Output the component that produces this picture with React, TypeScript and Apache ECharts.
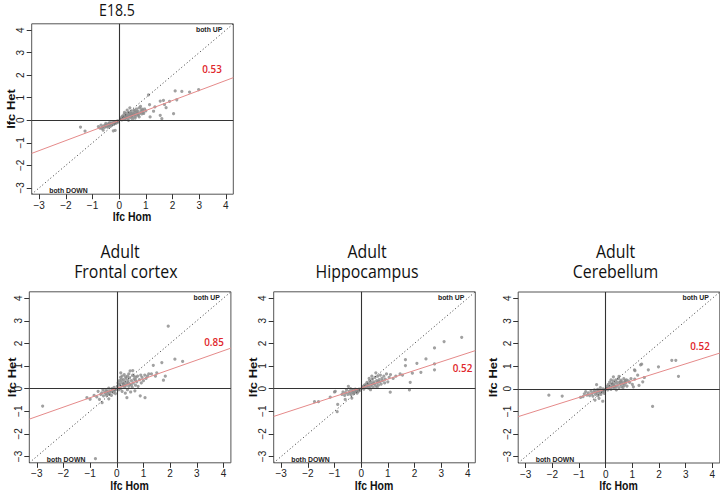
import React, { useEffect, useRef } from "react";
import * as echarts from "echarts";

// ---------- data ----------
const tickValues = [-3, -2, -1, 0, 1, 2, 3, 4];
const axisMin = -3.28;
const axisMax = 4.28;

const panelTitles = [["E18.5"], ["Adult", "Frontal cortex"], ["Adult", "Hippocampus"], ["Adult", "Cerebellum"]];
const fitLabels = ["0.53", "0.85", "0.52", "0.52"];
const xAxisName = "lfc Hom";
const yAxisName = "lfc Het";
const upLabel = "both UP";
const downLabel = "both DOWN";

const diagonal = [[-3.28, -3.28], [4.28, 4.28]];

const e18Fit = [[-3.28, -1.47], [4.28, 1.89]];
const frontalFit = [[-3.28, -1.35], [4.28, 1.79]];
const hippoFit = [[-3.28, -1.23], [4.28, 1.68]];
const cerebFit = [[-3.28, -1.23], [4.28, 1.58]];

const e18Points = [
  [-1.45, -0.3], [-1.28, -0.48], [-0.78, -0.28], [-0.72, -0.35], [-0.68, -0.22], [-0.62, -0.3], [-0.58, -0.25],
  [-0.55, -0.32], [-0.52, -0.2], [-0.48, -0.28], [-0.45, -0.22], [-0.42, -0.3], [-0.4, -0.15], [-0.38, -0.24],
  [-0.35, -0.18], [-0.33, -0.27], [-0.3, -0.12], [-0.28, -0.2], [-0.25, -0.15], [-0.23, -0.09], [-0.2, -0.18],
  [-0.18, -0.1], [-0.15, -0.06], [-0.13, -0.14], [-0.1, -0.05], [-0.08, -0.1], [-0.05, -0.03], [-0.03, -0.07],
  [-0.15, -0.45], [-0.6, -0.44], [-0.22, -0.47], [-0.65, -0.36], [-0.5, -0.14], [-0.36, -0.1],
  [0.05, 0.05], [0.08, 0.12], [0.1, 0.02], [0.12, 0.18], [0.15, 0.08], [0.18, 0.25], [0.2, 0.12], [0.22, 0.05],
  [0.25, 0.3], [0.28, 0.15], [0.3, 0.22], [0.32, 0.08], [0.35, 0.35], [0.38, 0.18], [0.4, 0.28], [0.42, 0.12],
  [0.45, 0.4], [0.48, 0.22], [0.5, 0.32], [0.52, 0.15], [0.55, 0.45], [0.58, 0.25], [0.6, 0.35], [0.62, 0.18],
  [0.65, 0.5], [0.68, 0.3], [0.7, 0.4], [0.72, 0.22], [0.75, 0.55], [0.78, 0.32], [0.8, 0.62], [0.82, 0.4],
  [0.85, 0.28], [0.88, 0.45], [0.9, 0.35], [0.95, 0.5], [1.0, 0.42], [0.3, 0.45], [0.4, 0.55], [0.2, 0.35],
  [0.6, 0.1], [0.5, 0.05], [0.35, 0.0], [0.75, 0.15], [0.16, 0.16], [0.26, 0.2], [0.44, 0.3], [0.66, 0.38],
  [0.54, 0.28], [0.46, 0.18], [0.36, 0.25], [0.7, 0.26], [0.58, 0.42], [0.84, 0.5], [0.92, 0.3], [0.24, 0.1],
  [1.1, 1.13], [1.14, 0.69], [1.29, 0.4], [1.34, 0.59], [1.16, 0.15], [1.54, 0.22], [1.6, 0.07], [1.54, 0.85],
  [1.66, 0.88], [1.7, 0.7], [1.76, 0.56], [1.89, 0.84], [2.1, 1.3], [2.35, 1.28], [2.16, 0.91], [2.64, 1.25],
  [2.98, 1.36], [2.04, 0.29]
];

const frontalPoints = [
  [-2.78, -0.77], [-0.8, -3.1], [-1.12, -0.4], [-1.0, -0.47], [-0.85, -0.3], [-0.75, -0.37], [-0.7, -0.12],
  [-0.65, -0.48], [-0.6, -0.25], [-0.56, -0.19], [-0.52, -0.05], [-0.5, -0.32], [-0.45, -0.15], [-0.42, -0.22],
  [-0.4, -0.06], [-0.38, -0.3], [-0.35, -0.12], [-0.32, -0.2], [-0.3, 0.02], [-0.28, -0.25], [-0.25, -0.1],
  [-0.22, -0.15], [-0.2, -0.3], [-0.18, 0.0], [-0.15, -0.08], [-0.12, -0.18], [-0.1, 0.05], [-0.08, -0.1],
  [-0.05, -0.22], [-0.03, -0.03], [-0.55, -0.62], [-0.3, -0.45],
  [0.02, 0.1], [0.05, 0.25], [0.08, -0.05], [0.1, 0.35], [0.12, 0.15], [0.14, 0.5], [0.15, 0.0], [0.18, 0.28],
  [0.2, 0.55], [0.2, -0.12], [0.22, 0.12], [0.25, 0.4], [0.25, 0.2], [0.28, 0.62], [0.3, 0.05], [0.3, 0.3],
  [0.32, -0.2], [0.35, 0.45], [0.35, 0.15], [0.38, 0.25], [0.4, 0.55], [0.4, -0.05], [0.42, 0.35], [0.45, 0.1],
  [0.48, 0.48], [0.5, 0.78], [0.5, 0.2], [0.52, -0.15], [0.55, 0.35], [0.58, 0.05], [0.6, 0.6], [0.62, 0.25],
  [0.65, 0.42], [0.68, -0.1], [0.7, 0.15], [0.72, 0.5], [0.75, 0.3], [0.78, 0.55], [0.8, 0.1], [0.85, 0.4],
  [0.88, -0.32], [0.9, 0.6], [0.92, 0.25], [0.95, 0.5], [1.0, 0.35], [1.05, 0.6], [1.06, -0.4], [1.1, 0.45],
  [1.15, 0.55], [1.2, 0.65], [1.3, 0.65], [1.37, 1.03], [1.45, 0.55], [1.5, 0.7], [1.69, 1.15], [1.75, 0.37],
  [1.82, 0.55], [1.93, 2.76], [2.18, 1.3], [2.47, 1.2], [0.38, -0.4], [0.15, 0.7], [0.6, 0.8], [0.45, 0.65],
  [0.18, 0.4], [0.28, 0.18], [0.33, 0.52], [0.44, 0.25], [0.55, 0.15], [0.65, 0.55], [0.7, 0.38], [0.1, 0.2]
];

const hippoPoints = [
  [-1.75, -0.58], [-1.6, -0.58], [-1.16, -0.38], [-1.0, -0.15], [-0.97, -0.12], [-0.88, -0.7], [-0.9, -1.02],
  [-0.72, -0.25], [-0.68, -0.15], [-0.62, -0.3], [-0.58, -0.18], [-0.55, -0.05], [-0.5, -0.25], [-0.48, 0.1],
  [-0.45, -0.12], [-0.42, -0.2], [-0.4, 0.0], [-0.38, -0.28], [-0.35, -0.1], [-0.32, -0.18], [-0.3, -0.05],
  [-0.28, -0.22], [-0.25, -0.12], [-0.22, -0.02], [-0.2, -0.15], [-0.18, -0.08], [-0.15, -0.2], [-0.12, -0.05],
  [-0.1, -0.12], [-0.08, -0.02], [-0.05, -0.08], [-0.35, -0.42], [-0.6, -0.48],
  [0.05, 0.03], [0.08, 0.1], [0.1, -0.02], [0.12, 0.15], [0.15, 0.05], [0.18, 0.2], [0.2, 0.08], [0.22, 0.28],
  [0.25, 0.12], [0.28, 0.02], [0.3, 0.22], [0.32, 0.35], [0.35, 0.1], [0.38, 0.28], [0.4, 0.18], [0.42, 0.42],
  [0.45, 0.05], [0.48, 0.3], [0.5, 0.2], [0.52, 0.5], [0.55, 0.12], [0.58, 0.35], [0.6, 0.25], [0.62, 0.55],
  [0.65, 0.15], [0.68, 0.4], [0.7, 0.3], [0.72, 0.6], [0.75, 0.2], [0.78, 0.45], [0.8, 0.35], [0.85, 0.55],
  [0.88, 0.25], [0.9, 0.42], [0.95, 0.65], [1.0, 0.3], [1.05, 0.5], [1.1, 0.62], [1.09, -0.16], [1.2, 0.45],
  [0.3, 0.45], [0.4, 0.55], [0.55, 0.7], [0.35, -0.05], [0.6, 0.05], [0.46, 0.22], [0.64, 0.32], [0.26, 0.18],
  [1.46, 0.65], [1.66, 1.28], [1.66, 1.02], [1.84, 0.28], [1.81, -0.06], [1.92, 0.68], [2.09, 1.12], [2.24, 0.72],
  [2.43, 1.31], [2.75, 1.8], [2.75, 1.09], [2.75, 0.83], [3.11, 2.08], [3.77, 2.27], [1.3, 0.55], [1.55, 0.6]
];

const cerebPoints = [
  [-2.13, -0.28], [-1.63, -0.32], [-0.94, -0.38], [-0.85, -0.35], [-0.8, -0.22], [-0.75, -0.12], [-0.7, -0.28],
  [-0.65, -0.18], [-0.6, -0.3], [-0.55, -0.1], [-0.52, -0.22], [-0.48, -0.32], [-0.45, -0.15], [-0.42, -0.05],
  [-0.4, -0.5], [-0.38, -0.25], [-0.35, -0.12], [-0.34, 0.18], [-0.32, -0.2], [-0.3, -0.02], [-0.28, -0.3],
  [-0.25, -0.1], [-0.22, -0.18], [-0.2, 0.05], [-0.18, -0.25], [-0.15, -0.08], [-0.12, -0.15], [-0.11, -0.55],
  [-0.1, 0.0], [-0.08, -0.1], [-0.05, -0.2], [-0.03, -0.05], [-0.25, -0.42],
  [0.04, 0.02], [0.06, 0.12], [0.08, -0.05], [0.1, 0.2], [0.12, 0.05], [0.15, 0.3], [0.18, 0.1], [0.2, -0.02],
  [0.22, 0.22], [0.25, 0.08], [0.28, 0.35], [0.29, 0.53], [0.3, 0.15], [0.32, 0.02], [0.35, 0.25], [0.38, 0.4],
  [0.4, 0.1], [0.42, 0.3], [0.45, 0.18], [0.48, 0.45], [0.5, 0.05], [0.52, 0.28], [0.55, 0.2], [0.58, 0.38],
  [0.6, 0.1], [0.62, 0.3], [0.65, 0.22], [0.68, 0.45], [0.7, 0.15], [0.72, 0.32], [0.75, 0.25], [0.78, 0.4],
  [0.8, 0.12], [0.85, 0.35], [0.9, 0.28], [0.95, 0.45], [1.0, 0.2], [1.04, 0.09], [0.2, 0.4], [0.5, 0.55],
  [0.65, 0.05], [0.4, -0.05], [0.34, 0.12], [0.56, 0.32], [0.26, 0.22], [0.74, 0.36],
  [1.08, 0.84], [1.1, 0.8], [1.09, 0.43], [1.31, 1.06], [1.39, 0.31], [1.2, 0.6], [1.35, 1.09], [1.45, 0.5],
  [1.6, 0.84], [1.98, 0.97], [2.48, 1.26], [2.63, 1.26], [2.73, 0.55], [1.76, -0.78], [1.25, 0.15]
];

const panelPoints = [e18Points, frontalPoints, hippoPoints, cerebPoints];
const panelFits = [e18Fit, frontalFit, hippoFit, cerebFit];

// ---------- layout ----------
const GRIDS = [
  { left: 31.7, top: 23.8, width: 201.6, height: 170.4 },
  { left: 29.3, top: 291.8, width: 201.6, height: 171 },
  { left: 273.7, top: 291.8, width: 201.6, height: 171 },
  { left: 518.2, top: 292, width: 201.6, height: 171 },
];
const TITLE_POS = [
  [[117, 10.5]],
  [[120, 251.5], [125.8, 271.5]],
  [[367, 251.5], [367, 271.5]],
  [[615.5, 251.5], [615.5, 271.5]],
];
const YNAME_X = [11.3, 12.1, 253.5, 493.5];
const FIT_LABEL_POS = [[212, 69], [214, 341.7], [462.5, 368], [700, 345.5]];

const minus = (v: number) => (v < 0 ? "\u2212" + Math.abs(v) : String(v));

export default function App() {
  const ref = useRef<HTMLDivElement>(null);
  useEffect(() => {
    if (!ref.current) return;
    const chart = echarts.init(ref.current, null, { renderer: "svg" });

    const tickFont = { fontSize: 10, color: "#222", fontFamily: "Liberation Sans, Arial, sans-serif" };

    const xAxis = GRIDS.map((_, i) => ({
      gridIndex: i,
      type: "value",
      min: axisMin,
      max: axisMax,
      axisLine: { show: false, onZero: false },
      splitLine: { show: false },
      axisTick: { show: true, length: 5, customValues: tickValues, lineStyle: { color: "#333", width: 1 } },
      axisLabel: { ...tickFont, margin: 6, customValues: tickValues, formatter: minus },
    }));
    const yAxis = GRIDS.map((_, i) => ({
      gridIndex: i,
      type: "value",
      min: axisMin,
      max: axisMax,
      axisLine: { show: false, onZero: false },
      splitLine: { show: false },
      axisTick: { show: true, length: 5, customValues: tickValues, lineStyle: { color: "#333", width: 1 } },
      axisLabel: { ...tickFont, margin: 6, rotate: 90, customValues: tickValues, formatter: minus },
    }));

    const series: any[] = [];
    panelPoints.forEach((pts, i) => {
      series.push({
        type: "scatter",
        xAxisIndex: i,
        yAxisIndex: i,
        data: pts,
        symbol: "circle",
        symbolSize: 3.2,
        itemStyle: { color: "#8a8a8a" },
        silent: true,
        z: 2,
        markLine: {
          silent: true,
          symbol: ["none", "none"],
          label: { show: false },
          lineStyle: { color: "#333", width: 1.1, type: "solid" },
          data: [{ xAxis: 0 }, { yAxis: 0 }],
        },
      });
      series.push({
        type: "line",
        xAxisIndex: i,
        yAxisIndex: i,
        data: diagonal,
        symbol: "none",
        silent: true,
        z: 3,
        lineStyle: { color: "#333", width: 1, type: [1, 2.5] },
      });
      series.push({
        type: "line",
        xAxisIndex: i,
        yAxisIndex: i,
        data: panelFits[i],
        symbol: "none",
        silent: true,
        z: 4,
        lineStyle: { color: "#e58a8a", width: 1 },
      });
    });

    const graphic: any[] = [];
    const titleFont = "Open Sans, Noto Sans, sans-serif";
    const labelFont = "Liberation Sans, Arial, sans-serif";
    panelTitles.forEach((lines, i) => {
      lines.forEach((t, j) => {
        const [x, y] = TITLE_POS[i][j];
        graphic.push({
          type: "text", x, y, scaleX: 0.86, silent: true,
          style: { text: t, fontSize: i === 0 ? 16.5 : 18.5, fontWeight: 500, fontFamily: titleFont, fill: "#111", align: "center", verticalAlign: "middle" },
        });
      });
    });
    GRIDS.forEach((g, i) => {
      graphic.push({
        type: "text", x: g.left + g.width / 2 - 0.5, y: g.top + g.height + 22.5, scaleX: 0.84, silent: true,
        style: { text: xAxisName, fontSize: 12.5, fontWeight: "bold", fontFamily: labelFont, fill: "#111", align: "center", verticalAlign: "middle" },
      });
      graphic.push({
        type: "text", x: YNAME_X[i], y: g.top + g.height / 2, rotation: Math.PI / 2, scaleY: 0.88, silent: true,
        style: { text: yAxisName, fontSize: 13, fontWeight: "bold", fontFamily: labelFont, fill: "#111", align: "center", verticalAlign: "middle" },
      });
      graphic.push({
        type: "text", x: g.left + g.width - 11, y: g.top + 5.5, scaleX: 0.86, silent: true,
        style: { text: upLabel, fontSize: 8, fontWeight: "bold", fontFamily: labelFont, fill: "#222", align: "right", verticalAlign: "middle" },
      });
      graphic.push({
        type: "text", x: g.left + 17.5, y: g.top + g.height - 3.5, scaleX: 0.86, silent: true,
        style: { text: downLabel, fontSize: 8, fontWeight: "bold", fontFamily: labelFont, fill: "#222", align: "left", verticalAlign: "middle" },
      });
      const [fx, fy] = FIT_LABEL_POS[i];
      graphic.push({
        type: "text", x: fx, y: fy, scaleX: 0.86, silent: true,
        style: { text: fitLabels[i], fontSize: 11.5, fontWeight: 600, fontFamily: titleFont, fill: "#e0262b", align: "center", verticalAlign: "middle" },
      });
    });

    chart.setOption({
      animation: false,
      backgroundColor: "#ffffff",
      grid: GRIDS.map((g) => ({ ...g, show: true, borderColor: "#555", borderWidth: 1, backgroundColor: "transparent", containLabel: false })),
      xAxis,
      yAxis,
      series,
      graphic,
    });
    return () => chart.dispose();
  }, []);

  return <div ref={ref} style={{ position: "fixed", left: 0, top: 0, width: 720, height: 491 }} />;
}
